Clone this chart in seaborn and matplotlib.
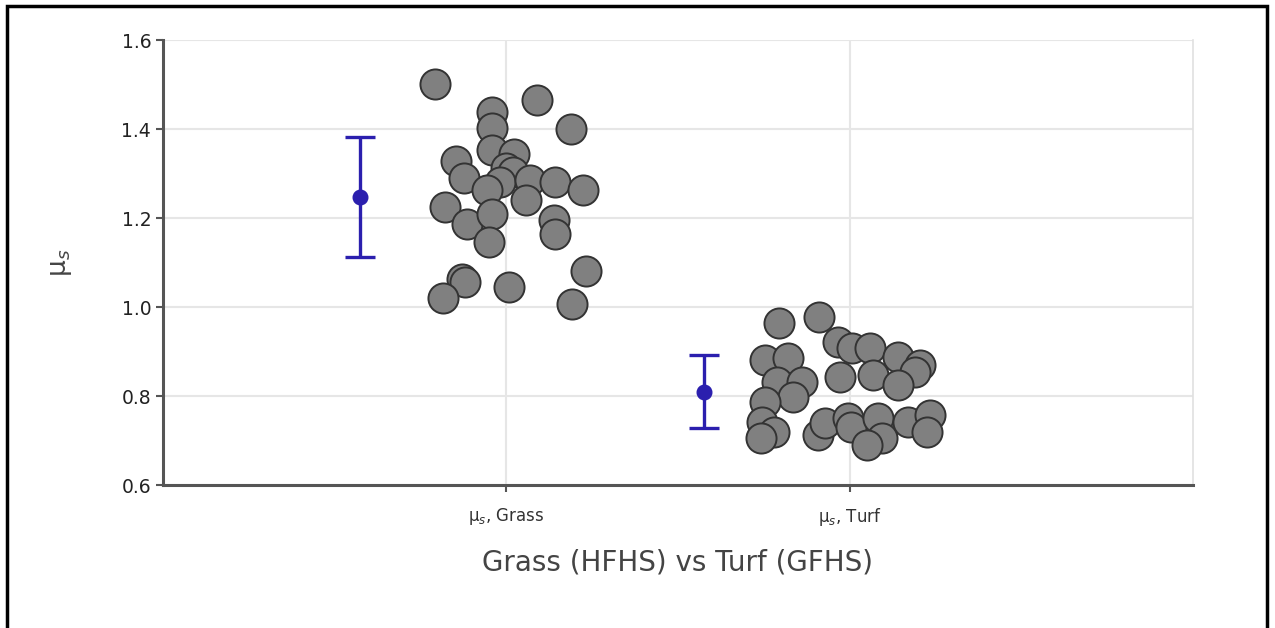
import matplotlib
matplotlib.use("Agg")
import matplotlib.pyplot as plt
import numpy as np
import pandas as pd
import seaborn as sns
from matplotlib.patches import Rectangle

# data
categories = ["μ$_s$, Grass", "μ$_s$, Turf"]

grass_mu = [1.501, 1.465, 1.438, 1.400, 1.402, 1.353, 1.344, 1.328, 1.312, 1.290,
            1.303, 1.281, 1.285, 1.263, 1.240, 1.281, 1.263, 1.225, 1.187, 1.209,
            1.196, 1.164, 1.146, 1.081, 1.063, 1.056, 1.045, 1.020, 1.007]
grass_jitter = [-0.207, 0.090, -0.041, 0.187, -0.041, -0.041, 0.023, -0.146, 0.000, -0.122,
                0.020, -0.017, 0.070, -0.055, 0.058, 0.143, 0.222, -0.178, -0.114, -0.041,
                0.140, 0.143, -0.050, 0.233, -0.128, -0.120, 0.009, -0.184, 0.190]

turf_mu = [0.964, 0.978, 0.921, 0.908, 0.908, 0.888, 0.870, 0.854, 0.881, 0.885,
           0.831, 0.831, 0.798, 0.787, 0.843, 0.847, 0.825, 0.742, 0.719, 0.706,
           0.712, 0.739, 0.751, 0.730, 0.751, 0.706, 0.690, 0.742, 0.757, 0.719]
turf_jitter = [-0.207, -0.090, -0.035, 0.006, 0.058, 0.140, 0.204, 0.190, -0.248, -0.181,
               -0.213, -0.140, -0.166, -0.248, -0.029, 0.067, 0.140, -0.254, -0.219, -0.257,
               -0.093, -0.073, -0.006, 0.003, 0.082, 0.093, 0.050, 0.169, 0.233, 0.224]

# mean and spread shown by the blue error bars
means = [1.248, 0.810]
spread = [0.135, 0.083]

df = pd.DataFrame({
    "cat": [0] * len(grass_mu) + [1] * len(turf_mu),
    "jit": grass_jitter + turf_jitter,
    "mu": grass_mu + turf_mu,
})
df["x"] = df["cat"] + df["jit"]

sns.set_style("whitegrid")
plt.rcParams["font.family"] = ["DejaVu Sans"]

fig = plt.figure(figsize=(12.75, 6.28), dpi=100)
ax = fig.add_axes([0.1278, 0.2277, 0.8079, 0.7086])

sns.scatterplot(data=df, x="x", y="mu", ax=ax, s=470, color="#808080",
                edgecolor="#333333", linewidth=1.4, legend=False, zorder=3)

offset = -0.425
for i in range(len(categories)):
    ax.errorbar(i + offset, means[i], yerr=spread[i], fmt="o", color="#2b1fae",
                markersize=10.5, capsize=11, capthick=2.4, elinewidth=2.4, zorder=4)

ax.set_xlim(-1, 2)
ax.set_ylim(0.6, 1.6)
ax.set_xticks([0, 1])
ax.set_xticklabels(categories, fontsize=12, color="#333333")
ax.set_yticks([0.6, 0.8, 1.0, 1.2, 1.4, 1.6])
ax.set_yticklabels(["0.6", "0.8", "1.0", "1.2", "1.4", "1.6"], fontsize=13.5, color="#222222")
ax.set_xlabel("Grass (HFHS) vs Turf (GFHS)", fontsize=20, color="#444444", labelpad=15)
ax.set_ylabel("μ$_s$", fontsize=19, color="#444444", labelpad=34)

ax.grid(True, color="#e6e6e6", linewidth=1.5)
ax.tick_params(axis="both", which="both", direction="out", length=5, width=1.5,
               color="#555555", left=True, bottom=True)
ax.tick_params(axis="x", pad=10)
for side in ["left", "bottom"]:
    ax.spines[side].set_color("#555555")
    ax.spines[side].set_linewidth(2.2)
ax.spines["top"].set_visible(False)
ax.spines["right"].set_color("#e0e0e0")
ax.spines["right"].set_linewidth(1.2)

# black frame around the picture (bottom edge is cut off)
fig.patches.append(Rectangle((7 / 1275, -0.2), 1260 / 1275, 1.2 - 6 / 628,
                             transform=fig.transFigure, fill=False,
                             edgecolor="black", linewidth=2.5))

fig.savefig("out.png", dpi=100)
